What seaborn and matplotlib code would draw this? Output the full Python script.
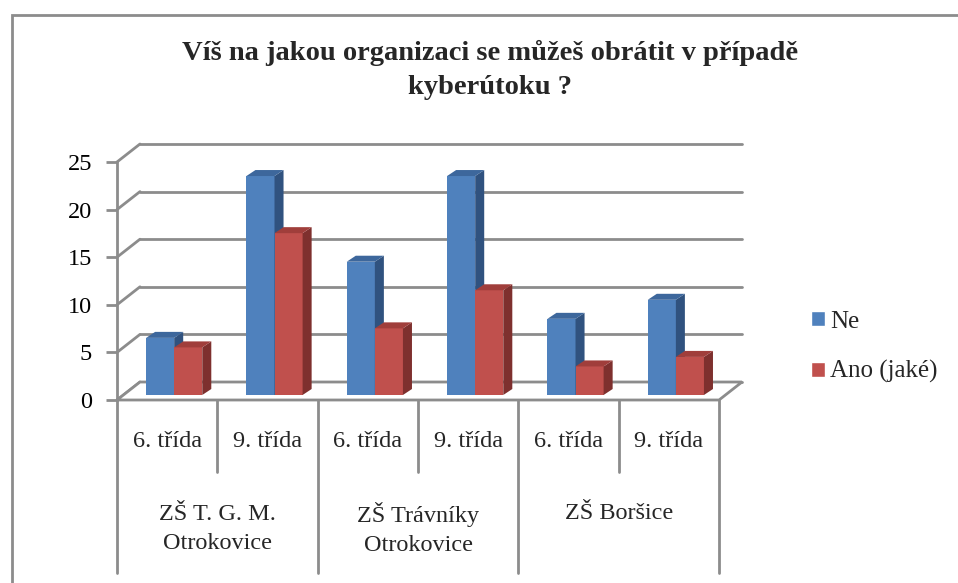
import matplotlib
matplotlib.use("Agg")
import matplotlib.pyplot as plt
import matplotlib.transforms as mtransforms
from matplotlib.patches import Polygon, Rectangle
import pandas as pd
import seaborn as sns

# Data
schools = ['ZŠ T. G. M.\nOtrokovice', 'ZŠ Trávníky\nOtrokovice', 'ZŠ Boršice']
classes = ['6. třída', '9. třída']
ne = [6, 23, 14, 23, 8, 10]
ano = [5, 17, 7, 11, 3, 4]
series = ['Ne', 'Ano (jaké)']
yticks = [0, 5, 10, 15, 20, 25]

keys = [f'{s}|{c}' for s in schools for c in classes]
df = pd.DataFrame({
    'kat': keys * 2,
    'serie': [series[0]] * len(keys) + [series[1]] * len(keys),
    'hodnota': ne + ano,
})

sns.set_theme(style='white')
plt.rcParams['font.family'] = ['Liberation Serif', 'DejaVu Serif']

W, H = 958, 583
fig = plt.figure(figsize=(W / 100, H / 100), dpi=100)

# 3D look parameters (data units)
DX, DY = 0.229, 1.89      # depth of back wall
BX, BY = 0.09, 0.63       # depth of each bar
ymax = 25

ax = fig.add_axes([117 / W, 183 / H, 625 / W, 256 / H])

colors = {'Ne': '#4F81BD', 'Ano (jaké)': '#C0504D'}
sides = {'#4F81BD': '#30527F', '#C0504D': '#7E302E'}
tops = {'#4F81BD': '#3D679C', '#C0504D': '#A03E3B'}

sns.barplot(data=df, x='kat', y='hodnota', hue='serie', palette=colors,
            width=0.56, saturation=1, ax=ax, legend=True)

ax.set_xlim(-0.5, 5.5 + DX)
ax.set_ylim(0, ymax + DY)
ax.set_xlabel('')
ax.set_ylabel('')
ax.set_xticks([])
for s in ['top', 'right', 'bottom']:
    ax.spines[s].set_visible(False)
ax.spines['left'].set_bounds(0, ymax)
ax.spines['left'].set_color('#8c8c8c')
ax.spines['left'].set_linewidth(2)
ax.set_yticks(yticks)
ax.tick_params(axis='y', left=True, length=8, width=2, color='#8c8c8c',
               pad=10, labelsize=17.5, labelcolor='black')

grid = '#8c8c8c'
# back wall gridlines and left wall diagonals
for v in yticks:
    ax.plot([-0.5 + DX, 5.5 + DX], [v + DY, v + DY], color=grid, lw=2, zorder=1, clip_on=False)
    ax.plot([-0.5, -0.5 + DX], [v, v + DY], color=grid, lw=2, zorder=1, clip_on=False)
# floor
floor = Polygon([(-0.5, 0), (5.5, 0), (5.5 + DX, DY), (-0.5 + DX, DY)], closed=True,
                facecolor='white', edgecolor=grid, lw=2, zorder=1.5, clip_on=False)
ax.add_patch(floor)

# bars set slightly back from the floor edge, with side and top faces
shift = mtransforms.offset_copy(ax.transData, fig=fig, x=7, y=5, units='dots')
bars = [p for p in ax.patches if isinstance(p, Rectangle) and p.get_height() > 0]
for p in bars:
    x0, y0, w, h = p.get_x(), p.get_y(), p.get_width(), p.get_height()
    fc = matplotlib.colors.to_hex(p.get_facecolor())
    z = 3 if fc.upper() == '#4F81BD' else 4
    p.set_transform(shift)
    p.set_zorder(z)
    p.set_edgecolor('none')
    side = Polygon([(x0 + w, y0), (x0 + w + BX, y0 + BY), (x0 + w + BX, y0 + h + BY), (x0 + w, y0 + h)],
                   closed=True, facecolor=sides.get(fc.upper(), fc), edgecolor='none',
                   transform=shift, zorder=z, clip_on=False)
    top = Polygon([(x0, y0 + h), (x0 + w, y0 + h), (x0 + w + BX, y0 + h + BY), (x0 + BX, y0 + h + BY)],
                  closed=True, facecolor=tops.get(fc.upper(), fc), edgecolor='none',
                  transform=shift, zorder=z, clip_on=False)
    ax.add_patch(side)
    ax.add_patch(top)

# category table below the floor
for i in range(len(keys) + 1):
    bottom = -18.2 if i % 2 == 0 else -7.6
    ax.plot([i - 0.5, i - 0.5], [0, bottom], color=grid, lw=2, clip_on=False, zorder=2)
for i, k in enumerate(keys):
    ax.text(i, -4.4, k.split('|')[1], ha='center', va='center', fontsize=17.5, clip_on=False)
for j, s in enumerate(schools):
    yy = -13.5 if '\n' in s else -11.9
    ax.text(2 * j + 0.5, yy, s, ha='center', va='center', fontsize=17.5,
            linespacing=1.5, clip_on=False)

# legend
handles, labels = ax.get_legend_handles_labels()
ax.legend(handles, labels, loc='center left', bbox_to_anchor=(811 / W, 1 - 347 / H),
          bbox_transform=fig.transFigure, frameon=False, fontsize=18, borderpad=0,
          borderaxespad=0, handlelength=0.55, handleheight=0.55, handletextpad=0.2,
          labelspacing=1.1)

# title
fig.text(490 / W, 1 - 70 / H, 'Víš na jakou organizaci se můžeš obrátit v případě\nkyberútoku ?',
         ha='center', va='center', fontsize=20.5, fontweight='bold', linespacing=1.45)

# chart frame
fig.patches.append(Rectangle((12 / W, -0.1), 1.2, 1.1 - 15 / H, transform=fig.transFigure,
                             fill=False, edgecolor='#8c8c8c', lw=2))

fig.savefig('out.png', dpi=100)
